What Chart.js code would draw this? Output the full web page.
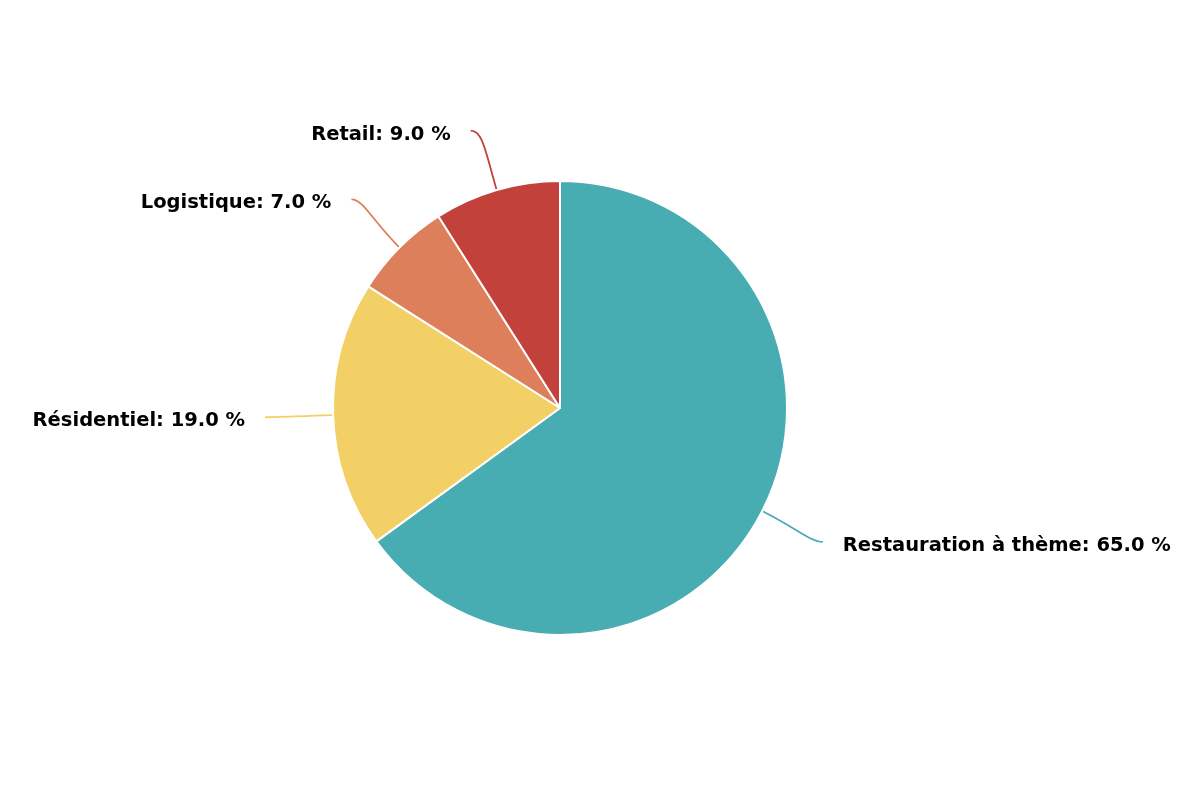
<!DOCTYPE html>
<html>
<head>
<meta charset="utf-8">
<script src="https://cdn.jsdelivr.net/npm/chart.js@4/dist/chart.umd.min.js"></script>
<style>
  body { margin: 0; background: #fff; }
</style>
</head>
<body>
<canvas id="pieChart" width="1200" height="800"></canvas>
<script>
const categories = ["Restauration à thème", "Résidentiel", "Logistique", "Retail"];
const shares = [65.0, 19.0, 7.0, 9.0];
const colors = ["#48ACB3", "#F2D065", "#DD7F5A", "#C2413A"];

// draws the outside labels with curved connectors
const outsideLabels = {
  id: "outsideLabels",
  afterDatasetsDraw(chart) {
    const c = chart.ctx;
    const meta = chart.getDatasetMeta(0);
    c.save();
    c.font = "bold 19.5px 'DejaVu Sans'";
    c.textBaseline = "middle";
    meta.data.forEach((arc, i) => {
      const mid = (arc.startAngle + arc.endAngle) / 2;
      const r = arc.outerRadius;
      const cos = Math.cos(mid);
      const sin = Math.sin(mid);
      const sx = arc.x + cos * (r + 1);
      const sy = arc.y + sin * (r + 1);
      let ex = arc.x + cos * (r + 68);
      let ey = arc.y + sin * (r + 68);
      // labels near the top get pushed down a bit so they sit on the circle's side
      if (sin < -0.9) {
        ey += 6;
        ex -= 7;
      }
      const right = cos >= 0;
      c.strokeStyle = colors[i];
      c.lineWidth = 1.8;
      c.beginPath();
      c.moveTo(sx, sy);
      c.bezierCurveTo(
        arc.x + cos * (r + 40), arc.y + sin * (r + 40),
        ex + (right ? -12 : 12), ey,
        ex, ey
      );
      c.stroke();
      c.fillStyle = "#000";
      c.textAlign = right ? "left" : "right";
      c.fillText(
        categories[i] + ": " + shares[i].toFixed(1) + " %",
        ex + (right ? 20 : -20),
        ey + 4
      );
    });
    c.restore();
  },
};

new Chart(document.getElementById("pieChart").getContext("2d"), {
  type: "pie",
  data: {
    labels: categories,
    datasets: [
      {
        data: shares,
        backgroundColor: colors,
        borderColor: "#ffffff",
        borderWidth: 2,
      },
    ],
  },
  options: {
    responsive: false,
    animation: false,
    layout: {
      padding: { top: 180, bottom: 164, left: 332, right: 412 },
    },
    plugins: {
      legend: { display: false },
      tooltip: { enabled: false },
    },
  },
  plugins: [outsideLabels],
});
</script>
</body>
</html>
